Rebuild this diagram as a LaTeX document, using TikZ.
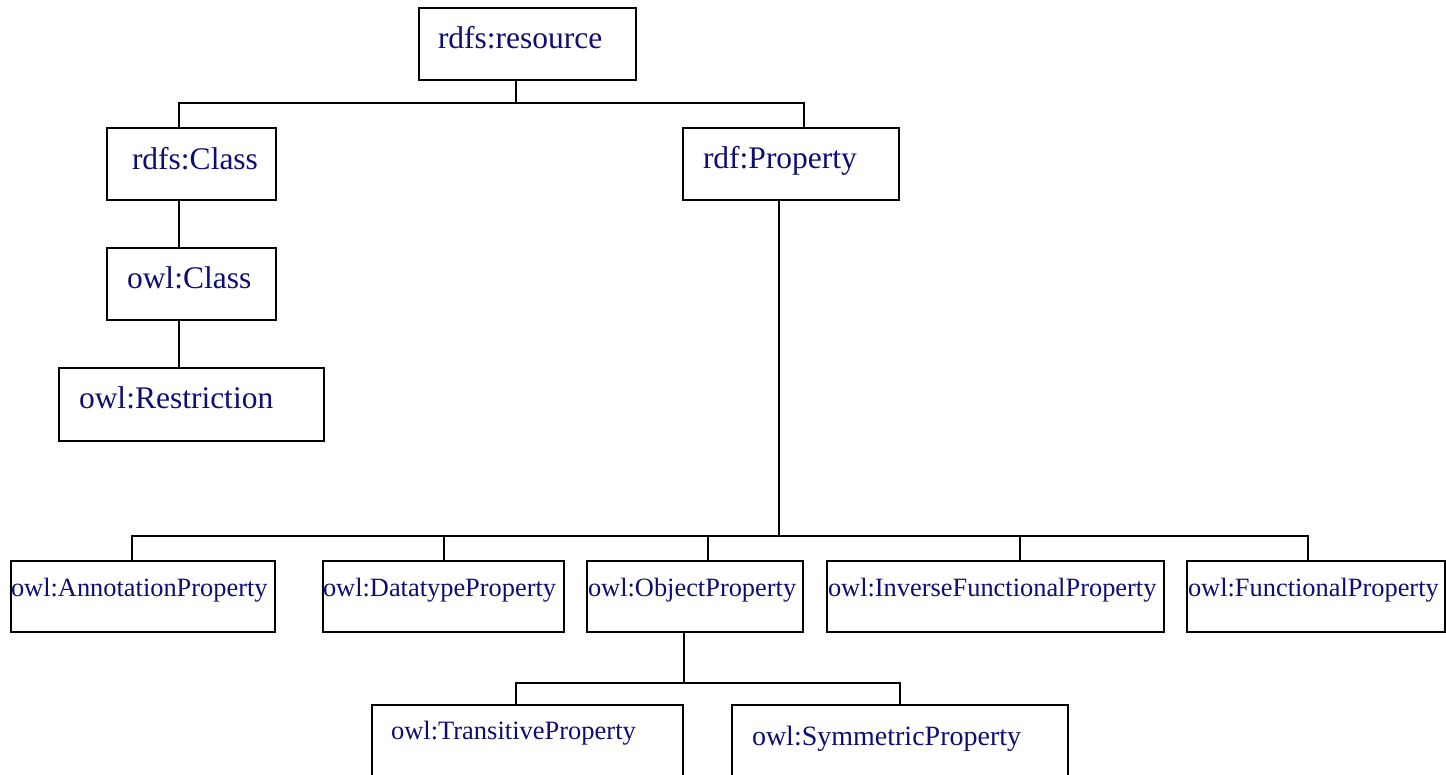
\documentclass[tikz,border=0pt]{standalone}
\usepackage{fontspec}
\setmainfont{Liberation Serif}
\definecolor{labelnavy}{HTML}{0E0E72}
\begin{document}
\begin{tikzpicture}[x=1pt, y=-1pt,
  box/.style={draw=black, line width=1.8pt, inner sep=0pt, outer sep=0pt, fill=none},
  lbl/.style={anchor=base west, inner sep=0pt, outer sep=0pt, text=labelnavy},
  big/.style={lbl, font=\fontsize{31.5}{36}\selectfont},
  small/.style={lbl, font=\fontsize{26.4}{30}\selectfont},
  link/.style={draw=black, line width=1.8pt, line cap=rect}
]
\useasboundingbox (0,0) rectangle (1446,774);
\clip (0,0) rectangle (1446,774);

% ---- class branch and root ----
\node[box, minimum width=217, minimum height=72] (res)    at (527.5,44)  {};
\node[box, minimum width=169, minimum height=72] (rclass) at (191.5,164) {};
\node[box, minimum width=169, minimum height=72] (oclass) at (191.5,284) {};
\node[box, minimum width=265, minimum height=73] (restr)  at (191.5,404.5) {};
\node[box, minimum width=216, minimum height=72] (prop)   at (791,164)   {};

\node[big] (res-l)    at (438,48)  {rdfs:resource};
\node[big] (rclass-l) at (132,169) {rdfs:Class};
\node[big] (oclass-l) at (127,288) {owl:Class};
\node[big] (restr-l)  at (79,408)  {owl:Restriction};
\node[big] (prop-l)   at (703,168) {rdf:Property};

% ---- property row ----
\node[box, minimum width=264, minimum height=71] (annot) at (143,596.5)  {};
\node[box, minimum width=241, minimum height=71] (dtype) at (443.5,596.5) {};
\node[box, minimum width=216, minimum height=71] (obj)   at (695,596.5)  {};
\node[box, minimum width=337, minimum height=71] (inv)   at (995.5,596.5) {};
\node[box, minimum width=258, minimum height=71] (func)  at (1316,596.5) {};

\node[small] (annot-l) at (11,596)   {owl:AnnotationProperty};
\node[small] (dtype-l) at (323,596)  {owl:DatatypeProperty};
\node[small] (obj-l)   at (588,596)  {owl:ObjectProperty};
\node[small] (inv-l)   at (828,596)  {owl:InverseFunctionalProperty};
\node[small] (func-l)  at (1188,596) {owl:FunctionalProperty};

% ---- object property sub-kinds (run past the lower edge) ----
\node[box, minimum width=311, minimum height=110] (trans) at (527.5,760) {};
\node[box, minimum width=336, minimum height=110] (sym)   at (900,760)   {};

\node[lbl, font=\fontsize{26.5}{30}\selectfont] (trans-l) at (391,739) {owl:TransitiveProperty};
\node[lbl, font=\fontsize{28}{32}\selectfont]   (sym-l)   at (752,745) {owl:SymmetricProperty};

% ---- junction points of the connector buses ----
\coordinate (j0) at (516,103);
\coordinate (jc) at (179,103);
\coordinate (jp) at (804,103);
\coordinate (k0) at (779,536);
\coordinate (k1) at (132,536);
\coordinate (k2) at (444,536);
\coordinate (k3) at (708,536);
\coordinate (k4) at (1020,536);
\coordinate (k5) at (1308,536);
\coordinate (m0) at (684,683);
\coordinate (m1) at (516,683);
\coordinate (m2) at (900,683);

% root to first level
\draw[link] (j0 |- res.south) -- (j0);
\draw[link] (jc |- rclass.north) -- (jc) -- (jp) -- (jp |- prop.north);
% class chain
\draw[link] (jc |- rclass.south) -- (jc |- oclass.north);
\draw[link] (jc |- oclass.south) -- (jc |- restr.north);
% property fan-out
\draw[link] (k0 |- prop.south) -- (k0);
\draw[link] (k1) -- (k5);
\draw[link] (k1) -- (k1 |- annot.north);
\draw[link] (k2) -- (k2 |- dtype.north);
\draw[link] (k3) -- (k3 |- obj.north);
\draw[link] (k4) -- (k4 |- inv.north);
\draw[link] (k5) -- (k5 |- func.north);
% object property fan-out
\draw[link] (m0 |- obj.south) -- (m0);
\draw[link] (m1 |- trans.north) -- (m1) -- (m2) -- (m2 |- sym.north);
\end{tikzpicture}
\end{document}
